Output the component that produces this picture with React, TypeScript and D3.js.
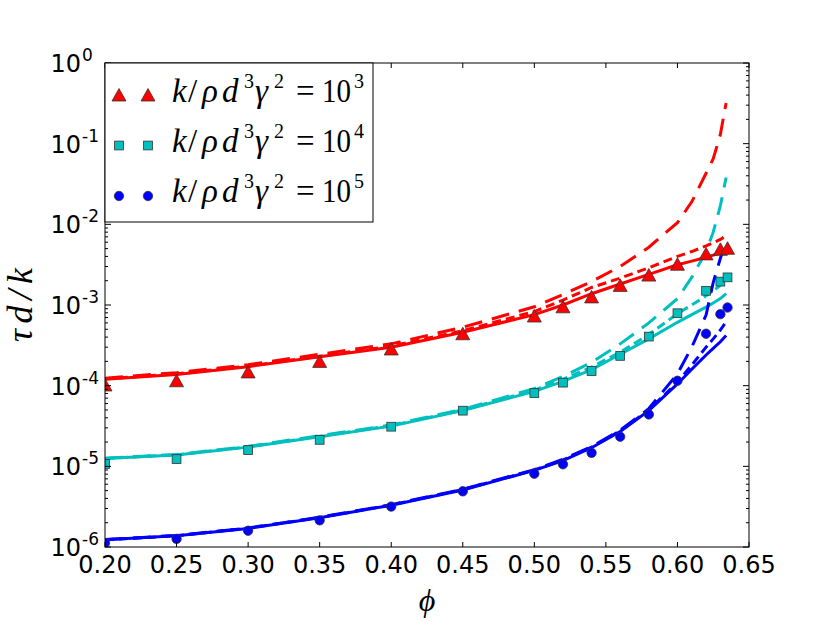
import * as d3 from 'd3';

const phiPoints = [0.2, 0.25, 0.3, 0.35, 0.4, 0.45, 0.5, 0.52, 0.54, 0.56, 0.58, 0.6, 0.62, 0.63, 0.635];
const phiLines = [0.2, 0.25, 0.3, 0.35, 0.4, 0.45, 0.5, 0.52, 0.54, 0.56, 0.58, 0.6, 0.61, 0.62, 0.625, 0.63, 0.634];

// k/rho d^3 gamma^2 = 10^3
const redPoints = [1.02e-4, 1.15e-4, 1.48e-4, 2.0e-4, 2.85e-4, 4.4e-4, 7.3e-4, 9.5e-4, 1.26e-3, 1.75e-3, 2.35e-3, 3.2e-3, 4.3e-3, 4.9e-3, 5.05e-3];
const redSolid = [1.2e-4, 1.38e-4, 1.72e-4, 2.28e-4, 3.0e-4, 4.6e-4, 7.6e-4, 1.0e-3, 1.38e-3, 1.82e-3, 2.4e-3, 3.15e-3, 3.5e-3, 3.9e-3, 4.15e-3, 4.4e-3, 4.7e-3];
const redShort = [1.21e-4, 1.4e-4, 1.75e-4, 2.32e-4, 3.1e-4, 4.8e-4, 8.3e-4, 1.15e-3, 1.65e-3, 2.15e-3, 2.9e-3, 4.0e-3, 4.6e-3, 5.4e-3, 5.9e-3, 6.5e-3, 7.2e-3];
const redLong = [1.24e-4, 1.45e-4, 1.82e-4, 2.45e-4, 3.3e-4, 5.3e-4, 9.5e-4, 1.35e-3, 1.95e-3, 3.0e-3, 5.2e-3, 1.05e-2, 1.9e-2, 4.3e-2, 6.5e-2, 0.13, 0.32];

// k/rho d^3 gamma^2 = 10^4
const cyanPoints = [1.07e-5, 1.23e-5, 1.59e-5, 2.13e-5, 3.1e-5, 4.9e-5, 8.1e-5, 1.09e-4, 1.52e-4, 2.34e-4, 4.06e-4, 7.9e-4, 1.5e-3, 1.95e-3, 2.2e-3];
const cyanSolid = [1.25e-5, 1.38e-5, 1.73e-5, 2.33e-5, 3.15e-5, 4.9e-5, 8.5e-5, 1.13e-4, 1.58e-4, 2.45e-4, 3.8e-4, 6.1e-4, 7.6e-4, 9.4e-4, 1.06e-3, 1.2e-3, 1.38e-3];
const cyanShort = [1.25e-5, 1.39e-5, 1.75e-5, 2.36e-5, 3.2e-5, 5.0e-5, 8.8e-5, 1.2e-4, 1.7e-4, 2.6e-4, 4.3e-4, 7.8e-4, 1.0e-3, 1.3e-3, 1.5e-3, 1.75e-3, 2.0e-3];
const cyanLong = [1.26e-5, 1.4e-5, 1.77e-5, 2.4e-5, 3.25e-5, 5.1e-5, 9.2e-5, 1.3e-4, 1.95e-4, 3.3e-4, 6.0e-4, 1.2e-3, 2.2e-3, 4.6e-3, 8.0e-3, 1.7e-2, 3.8e-2];

// k/rho d^3 gamma^2 = 10^5
const bluePoints = [1.12e-6, 1.26e-6, 1.59e-6, 2.14e-6, 3.17e-6, 4.9e-6, 8.1e-6, 1.06e-5, 1.47e-5, 2.33e-5, 4.4e-5, 1.15e-4, 4.4e-4, 7.7e-4, 9.3e-4];
const blueSolid = [1.23e-6, 1.38e-6, 1.7e-6, 2.3e-6, 3.3e-6, 5.1e-6, 8.9e-6, 1.18e-5, 1.7e-5, 2.7e-5, 4.9e-5, 1.05e-4, 1.6e-4, 2.4e-4, 2.9e-4, 3.5e-4, 4.2e-4];
const blueShort = [1.23e-6, 1.38e-6, 1.71e-6, 2.32e-6, 3.32e-6, 5.15e-6, 9.0e-6, 1.2e-5, 1.73e-5, 2.75e-5, 5.0e-5, 1.1e-4, 1.8e-4, 3.0e-4, 3.8e-4, 4.9e-4, 6.2e-4];
const blueLong = [1.24e-6, 1.39e-6, 1.72e-6, 2.34e-6, 3.35e-6, 5.2e-6, 9.1e-6, 1.22e-5, 1.76e-5, 2.8e-5, 5.2e-5, 1.4e-4, 3.0e-4, 7.5e-4, 1.9e-3, 3.8e-3, 6.2e-3];

const xTicks = ['0.20', '0.25', '0.30', '0.35', '0.40', '0.45', '0.50', '0.55', '0.60', '0.65'];
const yTickExponents = [0, -1, -2, -3, -4, -5, -6];
const legendExponents = ['3', '4', '5'];

const W = 830;
const H = 626;
const margin = { left: 105, right: 81, top: 63, bottom: 79 };

const series = [
  { color: '#ff0000', marker: 'triangle', points: redPoints, solid: redSolid, short: redShort, long: redLong },
  { color: '#00bfbf', marker: 'square', points: cyanPoints, solid: cyanSolid, short: cyanShort, long: cyanLong },
  { color: '#0000ff', marker: 'circle', points: bluePoints, solid: blueSolid, short: blueShort, long: blueLong },
];

const Marker = ({ kind, x, y, color }: { kind: string; x: number; y: number; color: string }) => {
  const edge = { stroke: '#333', strokeWidth: 0.8, fill: color };
  if (kind === 'triangle') {
    return <path d={`M${x},${y - 6.5}L${x + 7},${y + 6}L${x - 7},${y + 6}Z`} {...edge} />;
  }
  if (kind === 'square') {
    return <rect x={x - 4.4} y={y - 4.4} width={8.8} height={8.8} {...edge} />;
  }
  return <circle cx={x} cy={y} r={4.7} {...edge} />;
};

export default function App() {
  const x = d3.scaleLinear().domain([0.2, 0.65]).range([margin.left, W - margin.right]);
  const y = d3.scaleLog().domain([1e-6, 1]).range([H - margin.bottom, margin.top]);
  const [x0, x1] = x.range();
  const [yb, yt] = y.range();

  const line = (vals: number[]) =>
    d3.line<number>().x((_, i) => x(phiLines[i])).y((d) => y(d))(vals) || '';

  const minor: number[] = [];
  for (let e = -6; e < 0; e++) for (let m = 2; m <= 9; m++) minor.push(m * Math.pow(10, e));

  const mathFont = "'Liberation Serif', 'DejaVu Serif', serif";
  const tickFont = "'DejaVu Sans', sans-serif";

  return (
    <div style={{ position: 'absolute', left: 0, top: 0 }}>
      <svg width={W} height={H} style={{ display: 'block', background: '#fff' }}>
        <defs>
          <clipPath id="plot">
            <rect x={x0} y={yt} width={x1 - x0} height={yb - yt} />
          </clipPath>
        </defs>

        <g clipPath="url(#plot)">
          {series.map((s, si) => (
            <g key={si} fill="none" stroke={s.color} strokeWidth={3}>
              <path d={line(s.solid)} />
              <path d={line(s.short)} strokeDasharray="9,5" />
              <path d={line(s.long)} strokeDasharray="18,10" />
            </g>
          ))}
          {series.map((s, si) =>
            s.points.map((v, i) => (
              <Marker key={`${si}-${i}`} kind={s.marker} x={x(phiPoints[i])} y={y(v)} color={s.color} />
            ))
          )}
        </g>

        <rect x={x0} y={yt} width={x1 - x0} height={yb - yt} fill="none" stroke="#000" strokeWidth={1} />

        {xTicks.map((t) => (
          <g key={t}>
            <line x1={x(+t)} x2={x(+t)} y1={yb} y2={yb - 5} stroke="#000" />
            <line x1={x(+t)} x2={x(+t)} y1={yt} y2={yt + 5} stroke="#000" />
            <text x={x(+t)} y={yb + 26} textAnchor="middle" fontFamily={tickFont} fontSize={24} fill="#000">
              {t}
            </text>
          </g>
        ))}

        {yTickExponents.map((e) => (
          <g key={e}>
            <line x1={x0} x2={x0 + 6} y1={y(Math.pow(10, e))} y2={y(Math.pow(10, e))} stroke="#000" />
            <line x1={x1} x2={x1 - 6} y1={y(Math.pow(10, e))} y2={y(Math.pow(10, e))} stroke="#000" />
            <text x={81} y={y(Math.pow(10, e)) + 9} textAnchor="end" fontFamily={tickFont} fontSize={24} fill="#000">
              10
            </text>
            <text x={82} y={y(Math.pow(10, e)) - 2} fontFamily={tickFont} fontSize={17} fill="#000">
              {e === 0 ? '0' : `-${-e}`}
            </text>
          </g>
        ))}

        {minor.map((v, i) => (
          <g key={i}>
            <line x1={x0} x2={x0 + 3} y1={y(v)} y2={y(v)} stroke="#000" />
            <line x1={x1} x2={x1 - 3} y1={y(v)} y2={y(v)} stroke="#000" />
          </g>
        ))}

        <text
          transform={`translate(32,${(yt + yb) / 2}) rotate(-90)`}
          textAnchor="middle"
          fontFamily={mathFont}
          fontStyle="italic"
          fontSize={36}
          textLength={74}
          lengthAdjust="spacing"
        >
          τd/k
        </text>
        <text x={(x0 + x1) / 2} y={611} textAnchor="middle" fontFamily={mathFont} fontStyle="italic" fontSize={32}>
          ϕ
        </text>

        <g>
          <rect x={x0} y={yt} width={268} height={159} fill="#fff" stroke="#000" strokeWidth={1} />
          {series.map((s, i) => {
            const cy = 95 + i * 50.5;
            const by = 102 + i * 50;
            const px = 172;
            return (
              <g key={i} fontFamily={mathFont} fill="#000">
                <Marker kind={s.marker} x={119} y={cy} color={s.color} />
                <Marker kind={s.marker} x={148} y={cy} color={s.color} />
                <text x={px} y={by} fontSize={33} fontStyle="italic">k</text>
                <text x={px + 16} y={by} fontSize={33}>/</text>
                <text x={px + 30} y={by} fontSize={33} fontStyle="italic">ρ</text>
                <text x={px + 50} y={by} fontSize={33} fontStyle="italic">d</text>
                <text x={px + 72} y={by - 14} fontSize={20}>3</text>
                <text x={px + 83} y={by} fontSize={33} fontStyle="italic">γ</text>
                <text x={px + 102} y={by - 14} fontSize={20}>2</text>
                <text x={px + 124} y={by} fontSize={33}>=</text>
                <text x={px + 150} y={by} fontSize={33} textLength={29} lengthAdjust="spacingAndGlyphs">10</text>
                <text x={px + 182} y={by - 14} fontSize={20}>{legendExponents[i]}</text>
              </g>
            );
          })}
        </g>
      </svg>
    </div>
  );
}
